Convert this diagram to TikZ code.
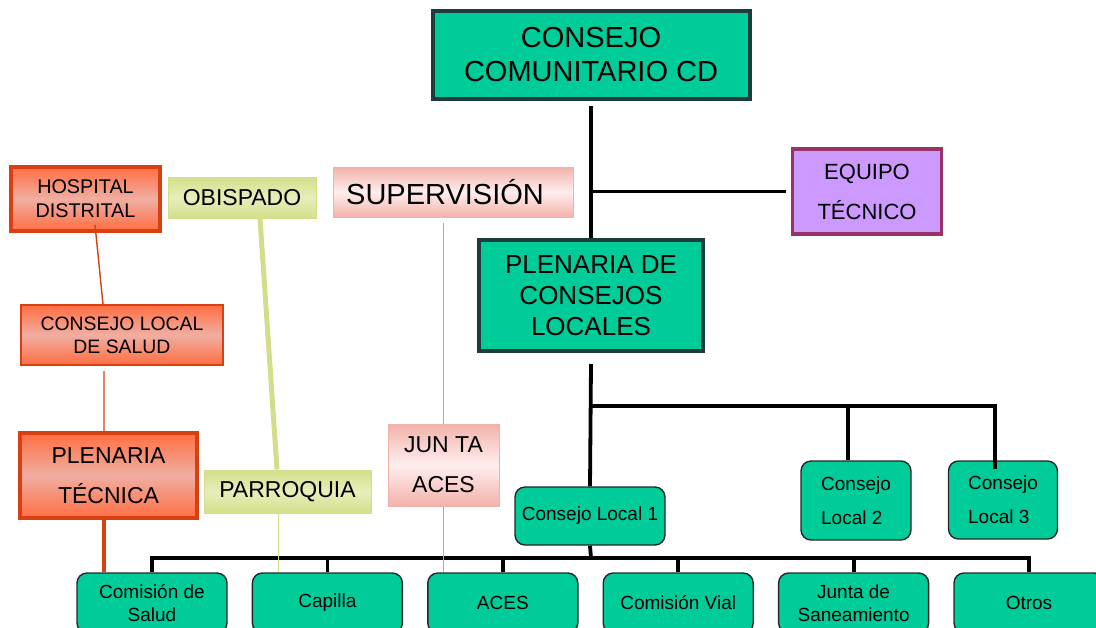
\documentclass[tikz,border=0pt]{standalone}
\usepackage{fontspec}
\setmainfont{Liberation Sans}
\usetikzlibrary{positioning,calc}
\definecolor{verde}{HTML}{00CC99}
\definecolor{bordeverde}{HTML}{1F3C3C}
\definecolor{lila}{HTML}{CC99FF}
\definecolor{bordelila}{HTML}{993366}
\definecolor{naranja}{HTML}{FF6E42}
\definecolor{salmon}{HTML}{F0AEA2}
\definecolor{rojo}{HTML}{D84012}
\definecolor{coral}{HTML}{E8806A}
\definecolor{rosa}{HTML}{F2B2AA}
\definecolor{rosaclaro}{HTML}{FFEEEE}
\definecolor{oliva}{HTML}{D4DE8A}
\definecolor{olivaclaro}{HTML}{E8EEBA}
\tikzset{
    %Define style for boxes
    mainbox/.style={
           rectangle,
           draw=bordeverde, line width=2pt,
           fill=verde,
           inner sep=0pt,
           align=center},
    localbox/.style={
           rectangle,
           rounded corners=5pt,
           draw=black!85, line width=0.7pt,
           fill=verde,
           inner sep=0pt,
           align=center,
           minimum width=75pt,
           font=\fontsize{9.5}{11.5}\selectfont},
    lilabox/.style={
           rectangle,
           draw=bordelila, line width=1.7pt,
           fill=lila,
           inner sep=0pt,
           align=center},
    redbox/.style={
           rectangle,
           draw=rojo, line width=1.6pt,
           top color=naranja, bottom color=naranja, middle color=salmon,
           inner sep=0pt,
           align=center},
    pinkbox/.style={
           rectangle,
           draw=rosa, line width=0.5pt,
           top color=rosa, bottom color=rosa, middle color=rosaclaro,
           inner sep=0pt,
           align=center},
    olivebox/.style={
           rectangle,
           draw=oliva, line width=0.5pt,
           top color=oliva, bottom color=oliva, middle color=olivaclaro,
           inner sep=0pt,
           align=center},
    % Define line styles
    blackline/.style={
           draw=black,
           line width=1.9pt},
    redline/.style={
           draw=rojo,
           line width=0.7pt},
    pinkline/.style={
           draw=rosa!80!red,
           line width=0.6pt},
    oliveline/.style={
           draw=oliva,
           line width=2.5pt}
}

\begin{document}
\begin{tikzpicture}[x=0.5pt,y=-0.5pt]
  \useasboundingbox (0,0) rectangle (1096,627);

  % main column
  \node[mainbox, minimum width=158.5pt, minimum height=44pt,
        font=\fontsize{14.5}{17}\selectfont] (ccd) at (591,55)
        {CONSEJO\\COMUNITARIO CD};
  \node[lilabox, minimum width=74.5pt, minimum height=42.5pt,
        font=\fontsize{11}{20}\selectfont] (equipo) at (867,191.5)
        {EQUIPO\\TÉCNICO};
  \node[mainbox, minimum width=112pt, minimum height=55.5pt,
        font=\fontsize{13}{15.5}\selectfont] (plc) at (591,295.5)
        {PLENARIA DE\\CONSEJOS\\LOCALES};

  % local councils
  \node[localbox, minimum height=29pt] (cl1) at (590,516) {Consejo Local 1};
  \node[localbox, align=left, minimum width=55pt, minimum height=39.5pt,
        font=\fontsize{9.5}{17}\selectfont] (cl2) at (856,500.5) {Consejo\\Local 2\hspace{3pt}};
  \node[localbox, align=left, minimum width=54.5pt, minimum height=39pt,
        font=\fontsize{9.5}{17}\selectfont] (cl3) at (1003,500) {Consejo\\Local 3\hspace{3pt}};

  % commissions
  \node[localbox, minimum height=30pt] (salud) at (152,603) {Comisión de\\Salud};
  \node[localbox, minimum height=30pt] (capilla) at (327.4,603) {Capilla};
  \node[localbox, minimum height=30pt] (aces) at (502.8,603) {ACES};
  \node[localbox, minimum height=30pt] (vial) at (678.2,603) {Comisión Vial};
  \node[localbox, minimum height=30pt] (saneam) at (853.6,603) {Junta de\\Saneamiento};
  \node[localbox, minimum height=30pt] (otros) at (1029,603) {Otros};

  % side boxes
  \node[redbox, minimum width=74.5pt, minimum height=32pt,
        font=\fontsize{9.9}{12}\selectfont] (hospital) at (85.5,199)
        {HOSPITAL\\DISTRITAL};
  \node[redbox, line width=0.7pt, minimum width=101pt, minimum height=30pt,
        font=\fontsize{9.7}{11.5}\selectfont] (cls) at (122,335)
        {CONSEJO LOCAL\\DE SALUD};
  \node[redbox, line width=2pt, minimum width=88.5pt, minimum height=42.5pt,
        font=\fontsize{11.5}{20}\selectfont] (plentec) at (108.5,475.5)
        {PLENARIA\\TÉCNICA};
  \node[olivebox, minimum width=74pt, minimum height=20.5pt,
        font=\fontsize{11.5}{14}\selectfont] (obispado) at (242,197.5) {OBISPADO};
  \node[olivebox, minimum width=83.5pt, minimum height=21.5pt,
        font=\fontsize{11.5}{14}\selectfont] (parroquia) at (287.5,491.5) {PARROQUIA};
  \node[pinkbox, minimum width=120pt, minimum height=25pt,
        font=\fontsize{14.5}{18}\selectfont] (superv) at (453,192)
        {SUPERVISIÓN\hspace{8pt}};
  \node[pinkbox, minimum width=55.5pt, minimum height=41pt,
        font=\fontsize{11.5}{20}\selectfont] (juntaaces) at (443.5,465)
        {JUN TA\\ACES};

  % tree connectors
  \coordinate (split) at (591,406);
  \coordinate (bus) at (591,558);
  \draw[blackline] ([yshift=-2.5pt]ccd.south) -- (plc.north);
  \draw[blackline, shorten >=2.5pt] (ccd.south |- equipo.west) -- (equipo.west);
  \draw[blackline] ([yshift=-5.5pt]plc.south) -- (cl1.north);
  \draw[blackline] (split) -| ([xshift=-4pt]cl2.north);
  \draw[blackline] (split) -| ([xshift=-4pt,yshift=-4.5pt]cl3.north);
  \draw[blackline] (cl1.south) -- (bus);
  \draw[blackline] ([xshift=-0.9pt]salud.north |- bus) -- ([xshift=0.9pt]otros.north |- bus);
  \foreach \n in {salud,capilla,aces,vial,saneam,otros}
    \draw[blackline] (\n.north |- bus) -- (\n.north);

  % side connectors
  \draw[redline] ([xshift=4.75pt,yshift=4pt]hospital.south) -- ([xshift=-9.5pt]cls.north);
  \draw[redline, draw=coral] ([xshift=-9pt,yshift=-2.5pt]cls.south) -- ([xshift=-2.25pt]plentec.north);
  \draw[redline, line width=2pt] ([xshift=-2.25pt]plentec.south)
    -- ([xshift=-2.25pt]plentec.south |- salud.north);
  \draw[oliveline] ([xshift=9pt]obispado.south) -- ([xshift=-5.25pt]parroquia.north);
  \draw[oliveline, line width=0.5pt] ([xshift=-4.75pt]parroquia.south)
    -- ([xshift=-4.75pt]parroquia.south |- capilla.north);
  \draw[pinkline, shorten <=2.5pt] (juntaaces.north |- superv.south) -- (juntaaces.north);
  \draw[pinkline] (juntaaces.south) -- (juntaaces.south |- aces.north);
\end{tikzpicture}
\end{document}
